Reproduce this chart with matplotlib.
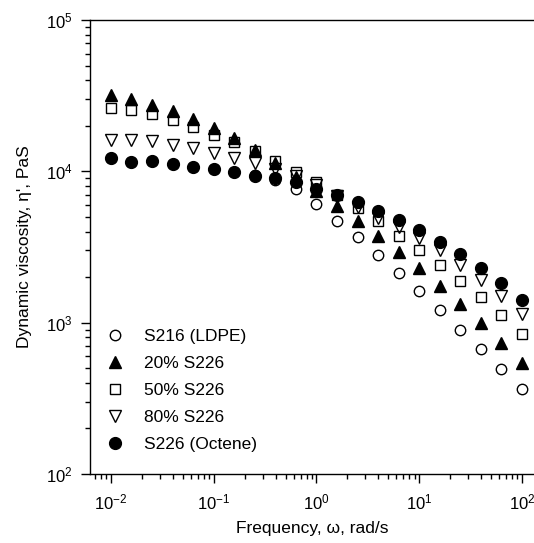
import matplotlib
matplotlib.use("Agg")
import matplotlib.pyplot as plt
from matplotlib.ticker import LogLocator, NullFormatter

plt.rcParams['font.family'] = ['Liberation Sans', 'DejaVu Sans']
plt.rcParams['mathtext.fontset'] = 'custom'
plt.rcParams['mathtext.rm'] = 'Liberation Sans'

freq = [0.01, 0.0158, 0.0251, 0.0398, 0.0631, 0.1, 0.158, 0.251, 0.398, 0.631,
        1.0, 1.58, 2.51, 3.98, 6.31, 10.0, 15.8, 25.1, 39.8, 63.1, 100.0]

s216_ldpe = [12200, 11600, 11700, 11200, 10700, 10400, 9900, 9400, 8700, 7620,
             6060, 4720, 3670, 2790, 2140, 1620, 1213, 895, 667, 494, 363]
s226_20 = [32000, 29960, 27470, 25200, 22100, 19450, 16700, 13800, 11300, 9200,
           7400, 5910, 4720, 3740, 2945, 2290, 1750, 1330, 1000, 738, 544]
s226_50 = [26100, 25470, 23950, 21900, 19730, 17400, 15700, 13700, 11720, 9950,
           8550, 6980, 5700, 4720, 3740, 3020, 2400, 1890, 1470, 1125, 842]
s226_80 = [16130, 16130, 15950, 14930, 14220, 13180, 12220, 11320, 10400, 9300,
           8100, 6900, 5800, 4900, 4270, 3610, 3020, 2400, 1915, 1500, 1140]
s226_octene = [12210, 11590, 11770, 11200, 10650, 10370, 9860, 9370, 9000, 8450,
               7700, 7000, 6300, 5500, 4770, 4100, 3430, 2830, 2290, 1820, 1413]

labels = ['S216 (LDPE)', '20% S226', '50% S226', '80% S226', 'S226 (Octene)']
series = [s216_ldpe, s226_20, s226_50, s226_80, s226_octene]
markers = ['o', '^', 's', 'v', 'o']
filled = [False, True, False, False, True]
sizes = [7.5, 9.0, 7.5, 9.0, 8.5]

fig = plt.figure(figsize=(5.34, 5.43), dpi=100)
ax = fig.add_axes([90/534, 1 - 474/543, 1 - 90/534, (474 - 20)/543])

for vals, lab, m, f, ms in zip(series, labels, markers, filled, sizes):
    ax.plot(freq, vals, linestyle='none', marker=m, markersize=ms,
            markerfacecolor='black' if f else 'none', markeredgecolor='black',
            markeredgewidth=1.0, label=lab)

ax.set_xscale('log')
ax.set_yscale('log')
ax.set_xlim(10**-2.204, 10**2.117)
ax.set_ylim(1e2, 1e5)

ax.spines['right'].set_visible(False)
for sp in ax.spines.values():
    sp.set_linewidth(1.0)

ax.xaxis.set_major_locator(LogLocator(base=10, numticks=10))
ax.xaxis.set_minor_locator(LogLocator(base=10, subs=range(2, 10), numticks=20))
ax.yaxis.set_major_locator(LogLocator(base=10, numticks=10))
ax.yaxis.set_minor_locator(LogLocator(base=10, subs=range(2, 10), numticks=20))
ax.xaxis.set_minor_formatter(NullFormatter())
ax.yaxis.set_minor_formatter(NullFormatter())

ax.tick_params(which='major', direction='out', length=6.5, width=1.0,
               labelsize=12, top=False, right=False)
ax.tick_params(which='minor', direction='out', length=3.6, width=1.0,
               top=False, right=False)
ax.tick_params(axis='x', which='major', pad=7)
ax.tick_params(axis='y', which='major', pad=6)

ax.set_xlabel('Frequency, ω, rad/s', fontsize=12.5, labelpad=6)
ax.set_ylabel("Dynamic viscosity, η', PaS", fontsize=12.5, labelpad=10)

leg = ax.legend(loc='lower left', bbox_to_anchor=(0.017, 0.034), frameon=False,
                fontsize=12.5, handletextpad=1.1, labelspacing=0.68,
                borderaxespad=0.0, handlelength=1.2)

fig.savefig('out.png', dpi=100)
